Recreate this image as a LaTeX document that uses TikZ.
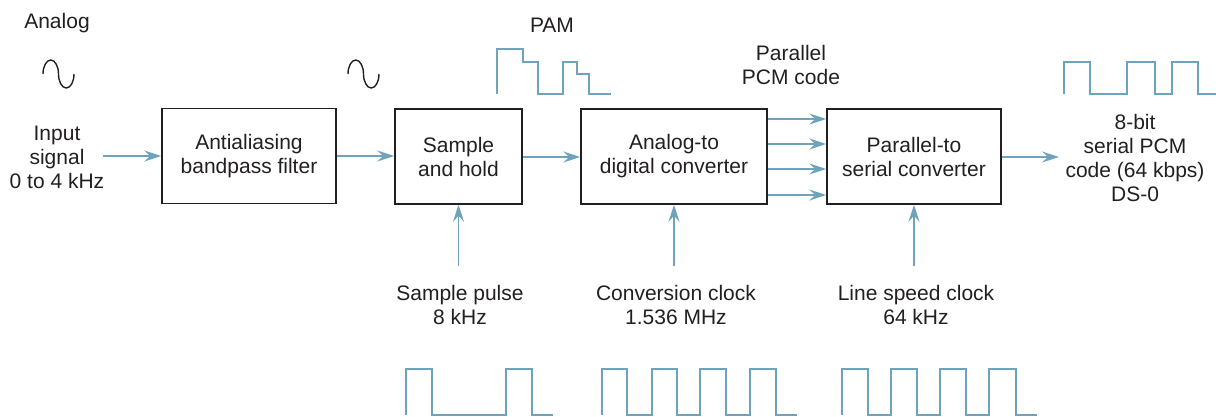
\documentclass[tikz,border=0pt]{standalone}
\usepackage{fontspec}
\setmainfont{Liberation Sans}
\usetikzlibrary{arrows.meta}
\definecolor{sigblue}{HTML}{6FA3BC}
\definecolor{ink}{HTML}{231F20}
\tikzset{
  txt/.style={font=\fontsize{21}{24}\selectfont, text=ink, align=center, inner sep=0pt},
  blk/.style={draw=ink, line width=1.5pt, minimum height=95pt, inner sep=0pt, font=\fontsize{21}{24}\selectfont, text=ink, align=center},
  arr/.style={draw=sigblue, line width=1.5pt, -{Stealth[length=17pt, width=11pt, inset=6pt]}},
  wave/.style={draw=sigblue, line width=1.8pt, line join=miter},
  sine/.style={draw=ink, line width=1.4pt}
}
\begin{document}
\begin{tikzpicture}[x=1pt, y=-1pt]
\useasboundingbox (0,0) rectangle (1216,416);

% blocks
\node[blk, minimum width=174pt] (aa) at (249,156) {Antialiasing\\bandpass filter};
\node[blk, minimum width=127pt] (sh) at (458.5,156.5) {Sample\\and hold};
\node[blk, minimum width=186pt] (adc) at (674,156.5) {Analog-to\\digital converter};
\node[blk, minimum width=174pt] (ps) at (914,156.5) {Parallel-to\\serial converter};

% texts
\node[txt] (analog) at (57,23) {Analog};
\node[txt] (input) at (57,157) {Input\\signal\\0 to 4 kHz};
\node[txt] (pam) at (552,25) {PAM};
\node[txt] (ppcm) at (791,64.5) {Parallel\\PCM code};
\node[txt] (spcm) at (1135,158) {8-bit\\serial PCM\\code (64 kbps)\\DS-0};
\node[txt] (spl) at (460,305) {Sample pulse\\8 kHz};
\node[txt] (cvc) at (676,305) {Conversion clock\\1.536 MHz};
\node[txt] (lsc) at (916,305) {Line speed clock\\64 kHz};

% connectors
\coordinate (inS) at (103,156);
\coordinate (outE) at (1059,157);
\coordinate (shB) at (458.5,266);
\coordinate (adcB) at (674,266);
\coordinate (psB) at (914,266);
\draw[arr] (inS) -- (aa.west |- inS);
\draw[arr] (aa.east |- 0,156) -- (sh.west |- 0,156);
\draw[arr] (sh.east |- 0,157) -- (adc.west |- 0,157);
\foreach \yy in {119,144,169,195}{
  \draw[arr] (adc.east |- 0,\yy) -- (ps.west |- 0,\yy);
}
\draw[arr] (ps.east |- outE) -- (outE);
\draw[arr] (shB) -- (sh.south);
\draw[arr] (adcB) -- (adc.south);
\draw[arr] (psB) -- (ps.south);

% analog sine symbols
\draw[sine] (43,74) arc[start angle=180, end angle=360, x radius=7.75, y radius=14]
                    arc[start angle=180, end angle=0, x radius=7.75, y radius=14];
\draw[sine] (348,74) arc[start angle=180, end angle=360, x radius=7.75, y radius=14]
                     arc[start angle=180, end angle=0, x radius=7.75, y radius=14];

% PAM waveform
\draw[wave] (497,94) -- (497,49) -- (523,49) -- (523,62) -- (538,62) -- (538,94) -- (563,94) -- (563,62) -- (577,62) -- (577,74) -- (589,74) -- (589,94) -- (611,94);

% serial output waveform
\draw[wave] (1064,94) -- (1064,62) -- (1090,62) -- (1090,94) -- (1127,94) -- (1127,62) -- (1155,62) -- (1155,94) -- (1172,94) -- (1172,62) -- (1198,62) -- (1198,94) -- (1216,94);

% clock waveforms
\draw[wave] (406,415) -- (406,369) -- (432,369) -- (432,415) -- (506,415) -- (506,369) -- (532,369) -- (532,415) -- (553,415);
\draw[wave] (602,415) -- (602,369) -- (627,369) -- (627,415) -- (652,415) -- (652,369) -- (677,369) -- (677,415) -- (700,415) -- (700,369) -- (726,369) -- (726,415) -- (750,415) -- (750,369) -- (776,369) -- (776,415) -- (797,415);
\draw[wave] (842,415) -- (842,369) -- (868,369) -- (868,415) -- (891,415) -- (891,369) -- (917,369) -- (917,415) -- (940,415) -- (940,369) -- (966,369) -- (966,415) -- (989,415) -- (989,369) -- (1016,369) -- (1016,415) -- (1037,415);
\end{tikzpicture}
\end{document}
